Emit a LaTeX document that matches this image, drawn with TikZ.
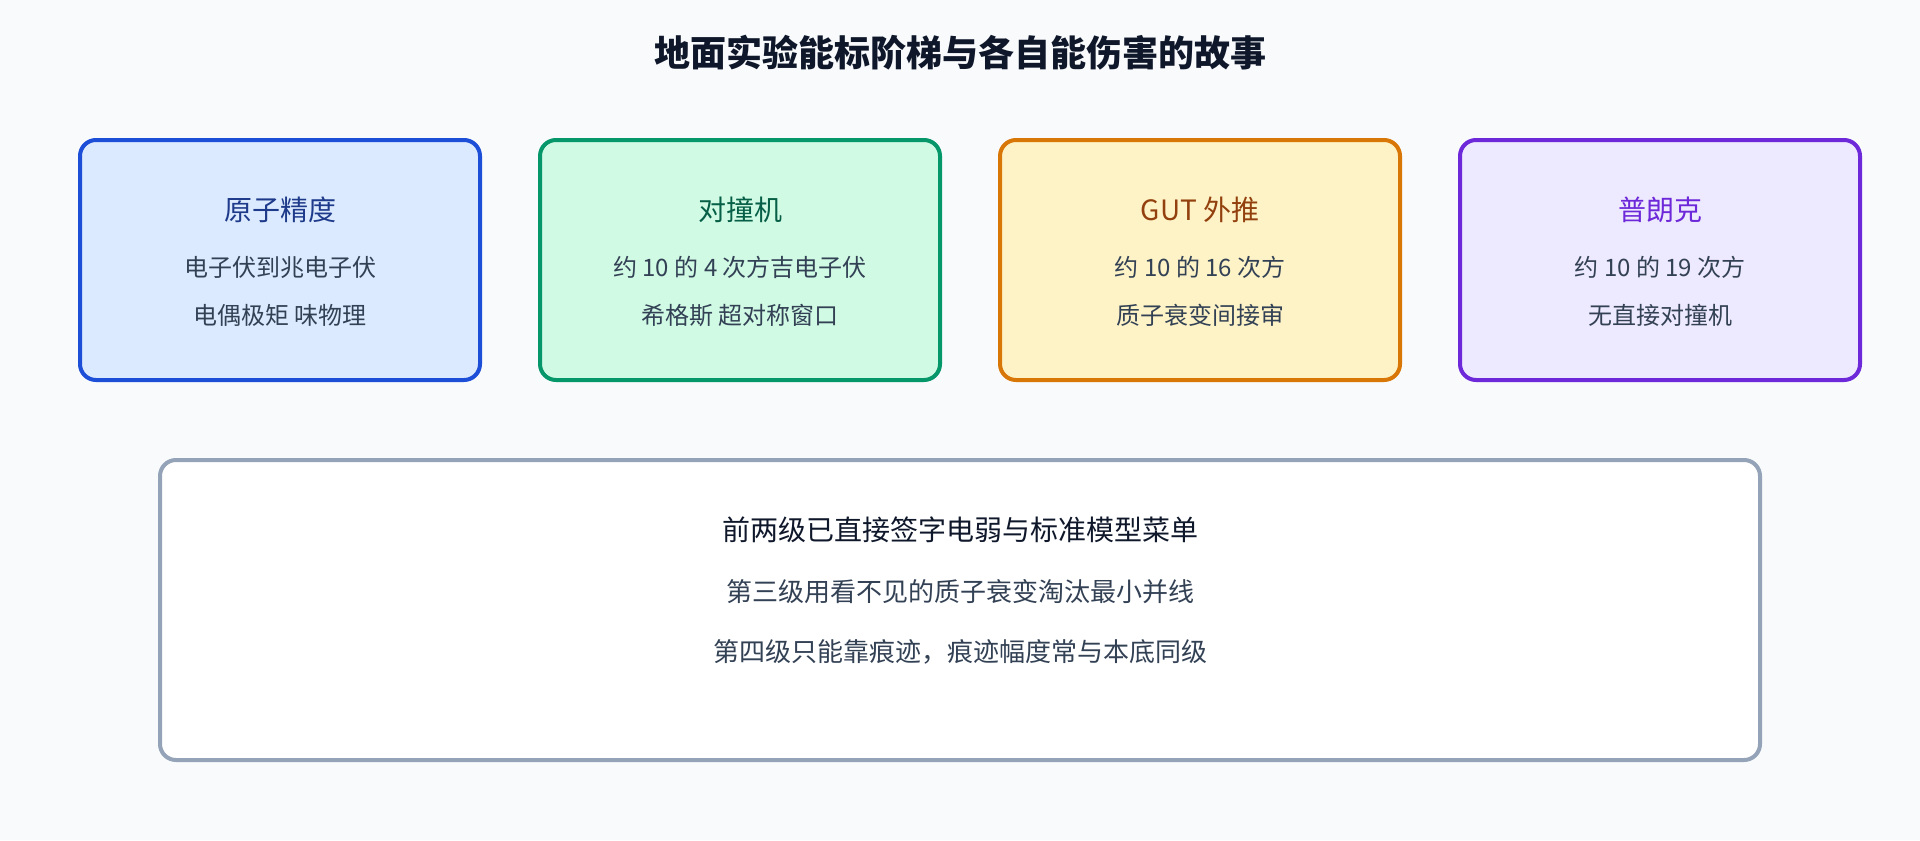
\documentclass[tikz,border=0pt]{standalone}
\usepackage{fontspec}
\setmainfont{Noto Sans CJK SC}
\usepackage{tikz}
\usetikzlibrary{positioning}
\usepackage{xcolor}
\definecolor{bgcolor}{RGB}{248, 250, 252}
\definecolor{inkcolor}{RGB}{15, 23, 42}
\definecolor{textcolor}{RGB}{51, 65, 85}
\definecolor{atomfill}{RGB}{219, 234, 254}
\definecolor{atomline}{RGB}{29, 78, 216}
\definecolor{atomtext}{RGB}{30, 58, 138}
\definecolor{colfill}{RGB}{209, 250, 229}
\definecolor{colline}{RGB}{5, 150, 105}
\definecolor{coltext}{RGB}{6, 95, 70}
\definecolor{gutfill}{RGB}{254, 243, 199}
\definecolor{gutline}{RGB}{217, 119, 6}
\definecolor{guttext}{RGB}{146, 64, 14}
\definecolor{plafill}{RGB}{237, 233, 254}
\definecolor{plaline}{RGB}{109, 40, 217}
\definecolor{platext}{RGB}{109, 40, 217}
\definecolor{notefill}{RGB}{255, 255, 255}
\definecolor{noteline}{RGB}{148, 163, 184}

\begin{document}
\begin{tikzpicture}[
    x=0.5pt, y=-0.5pt,
    tier/.style={rectangle, rounded corners=8pt, line width=2pt, minimum width=200pt, minimum height=120pt},
    abox/.style={tier, draw=atomline, fill=atomfill},
    cbox/.style={tier, draw=colline, fill=colfill},
    gbox/.style={tier, draw=gutline, fill=gutfill},
    pbox/.style={tier, draw=plaline, fill=plafill},
    nbox/.style={rectangle, rounded corners=8pt, line width=2pt, draw=noteline, fill=notefill, minimum width=800pt, minimum height=150pt},
    head/.style={font=\fontsize{14}{16}\selectfont},
    line/.style={font=\fontsize{12}{14}\selectfont, text=textcolor},
    nline/.style={font=\fontsize{13}{15}\selectfont, text=textcolor}
]
    % Background and frame
    \fill[bgcolor] (0,0) rectangle (1920,840);
    \useasboundingbox (0,0) rectangle (1920,840);

    % Title
    \node[font=\fontsize{18}{20}\selectfont\bfseries, text=inkcolor] (title) at (960,53) {地面实验能标阶梯与各自能伤害的故事};

    % Tier boxes
    \node[abox] (b1) at (280,260) {};
    \node[cbox] (b2) at (740,260) {};
    \node[gbox] (b3) at (1200,260) {};
    \node[pbox] (b4) at (1660,260) {};

    % Tier texts
    \node[head, text=atomtext] (h1) at (280,210) {原子精度};
    \node[line] (l1a) at (280,267) {电子伏到兆电子伏};
    \node[line] (l1b) at (280,315) {电偶极矩 味物理};

    \node[head, text=coltext] (h2) at (740,210) {对撞机};
    \node[line] (l2a) at (740,267) {约 10 的 4 次方吉电子伏};
    \node[line] (l2b) at (740,315) {希格斯 超对称窗口};

    \node[head, text=guttext] (h3) at (1200,210) {GUT 外推};
    \node[line] (l3a) at (1200,267) {约 10 的 16 次方};
    \node[line] (l3b) at (1200,315) {质子衰变间接审};

    \node[head, text=platext] (h4) at (1660,210) {普朗克};
    \node[line] (l4a) at (1660,267) {约 10 的 19 次方};
    \node[line] (l4b) at (1660,315) {无直接对撞机};

    % Summary box
    \node[nbox] (note) at (960,610) {};
    \node[head, text=inkcolor] (n1) at (960,530) {前两级已直接签字电弱与标准模型菜单};
    \node[nline] (n2) at (960,592) {第三级用看不见的质子衰变淘汰最小并线};
    \node[nline] (n3) at (960,652) {第四级只能靠痕迹，痕迹幅度常与本底同级};
\end{tikzpicture}
\end{document}
